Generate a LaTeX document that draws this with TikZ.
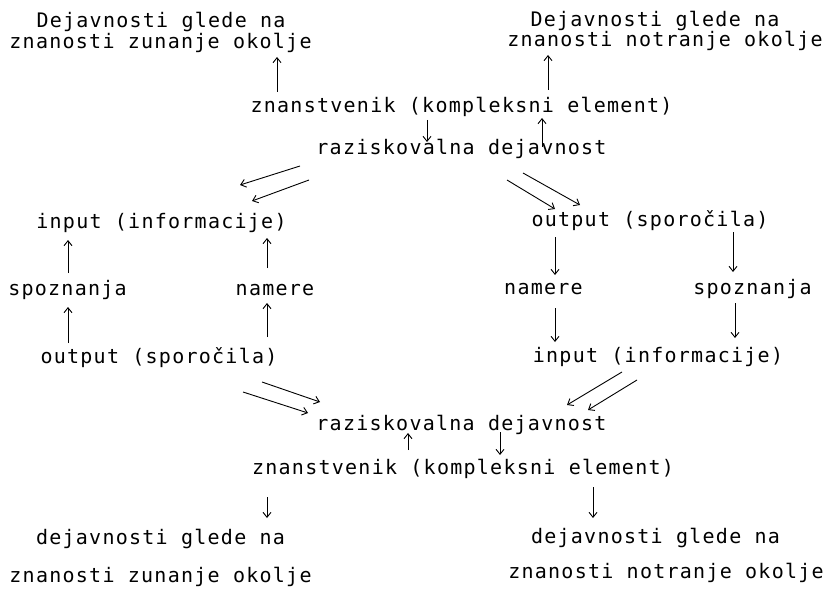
\documentclass[tikz,border=0pt]{standalone}
\usepackage{fontspec}
\newfontfamily\typefont[LetterSpace=6.3]{DejaVu Sans Mono}
\usetikzlibrary{arrows.meta}
\begin{document}
\begin{tikzpicture}[x=1pt,y=-1pt,
  lbl/.style={anchor=base,inner sep=0pt,font=\typefont\fontsize{20}{24}\selectfont},
  arr/.style={line width=0.9pt,-{Straight Barb[length=5pt,width=8pt]}}]
\fill[white] (0,0) rectangle (830,591);
\useasboundingbox (0,0) rectangle (830,591);

% top block
\node[lbl] (TLa) at (161,28) {Dejavnosti glede na};
\node[lbl] (TLb) at (160.5,49) {znanosti zunanje okolje};
\node[lbl] (TRa) at (655,27) {Dejavnosti glede na};
\node[lbl] (TRb) at (665,47) {znanosti notranje okolje};
\node[lbl] (Z1) at (461.5,113) {znanstvenik (kompleksni element)};
\node[lbl] (R1) at (461.5,155) {raziskovalna dejavnost};

% left column
\node[lbl] (LI) at (161.5,228) {input (informacije)};
\node[lbl] (LS) at (67.5,295) {spoznanja};
\node[lbl] (LN) at (275,295) {namere};
\node[lbl] (LO) at (159,363) {output (sporočila)};

% right column
\node[lbl] (RO) at (650,226) {output (sporočila)};
\node[lbl] (RN) at (543.5,294) {namere};
\node[lbl] (RS) at (752.5,294) {spoznanja};
\node[lbl] (RI) at (658,362) {input (informacije)};

% bottom block
\node[lbl] (R2) at (461.5,430) {raziskovalna dejavnost};
\node[lbl] (Z2) at (463,474) {znanstvenik (kompleksni element)};
\node[lbl] (BLa) at (160.5,544) {dejavnosti glede na};
\node[lbl] (BLb) at (160.5,582) {znanosti zunanje okolje};
\node[lbl] (BRa) at (655.5,543) {dejavnosti glede na};
\node[lbl] (BRb) at (666,578) {znanosti notranje okolje};

% top connectors
\draw[arr] ([xshift=-184.5pt,yshift=21pt]Z1.base) -- ([xshift=116.5pt,yshift=-8pt]TLb.base);
\draw[arr] ([xshift=-34.5pt,yshift=-7pt]Z1.base) -- ([xshift=-34.5pt,yshift=13pt]R1.base);
\draw[arr] ([xshift=80.5pt,yshift=8pt]R1.base) -- ([xshift=80.5pt,yshift=-5pt]Z1.base);
\draw[arr] ([xshift=86.5pt,yshift=23pt]Z1.base) -- ([xshift=-117pt,yshift=-8pt]TRb.base);
\draw[arr] ([xshift=-161.5pt,yshift=-11pt]R1.base) -- ([xshift=78.5pt,yshift=43pt]LI.base);
\draw[arr] ([xshift=-152.5pt,yshift=-25pt]R1.base) -- ([xshift=90.5pt,yshift=27pt]LI.base);
\draw[arr] ([xshift=45.5pt,yshift=-25pt]R1.base) -- ([xshift=-95pt,yshift=17pt]RO.base);
\draw[arr] ([xshift=61.5pt,yshift=-18pt]R1.base) -- ([xshift=-70pt,yshift=21pt]RO.base);

% left column connectors
\draw[arr] ([xshift=0.5pt,yshift=22pt]LS.base) -- ([xshift=-93.5pt,yshift=-12pt]LI.base);
\draw[arr] ([xshift=-91pt,yshift=20pt]LO.base) -- ([xshift=0.5pt,yshift=-12pt]LS.base);
\draw[arr] ([xshift=-8pt,yshift=27pt]LN.base) -- ([xshift=105.5pt,yshift=-10pt]LI.base);
\draw[arr] ([xshift=108pt,yshift=26pt]LO.base) -- ([xshift=-8pt,yshift=-8pt]LN.base);

% right column connectors
\draw[arr] ([xshift=-95pt,yshift=-11pt]RO.base) -- ([xshift=11.5pt,yshift=19pt]RN.base);
\draw[arr] ([xshift=11.5pt,yshift=-14pt]RN.base) -- ([xshift=-103pt,yshift=20pt]RI.base);
\draw[arr] ([xshift=83pt,yshift=-6pt]RO.base) -- ([xshift=-19.5pt,yshift=22pt]RS.base);
\draw[arr] ([xshift=-17.5pt,yshift=-9pt]RS.base) -- ([xshift=77pt,yshift=24pt]RI.base);

% bottom connectors
\draw[arr] ([xshift=103pt,yshift=-19pt]LO.base) -- ([xshift=-141.5pt,yshift=28pt]R2.base);
\draw[arr] ([xshift=84pt,yshift=-29pt]LO.base) -- ([xshift=-153.5pt,yshift=17pt]R2.base);
\draw[arr] ([xshift=-36pt,yshift=-10pt]RI.base) -- ([xshift=105.5pt,yshift=25pt]R2.base);
\draw[arr] ([xshift=-21pt,yshift=-18pt]RI.base) -- ([xshift=126.5pt,yshift=20pt]R2.base);
\draw[arr] ([xshift=-55pt,yshift=24pt]Z2.base) -- ([xshift=-53.5pt,yshift=-3pt]R2.base);
\draw[arr] ([xshift=38.5pt,yshift=-2pt]R2.base) -- ([xshift=37pt,yshift=19pt]Z2.base);
\draw[arr] ([xshift=-196pt,yshift=-23pt]Z2.base) -- ([xshift=106.5pt,yshift=26pt]BLa.base);
\draw[arr] ([xshift=130pt,yshift=-13pt]Z2.base) -- ([xshift=-62.5pt,yshift=25pt]BRa.base);
\end{tikzpicture}
\end{document}
